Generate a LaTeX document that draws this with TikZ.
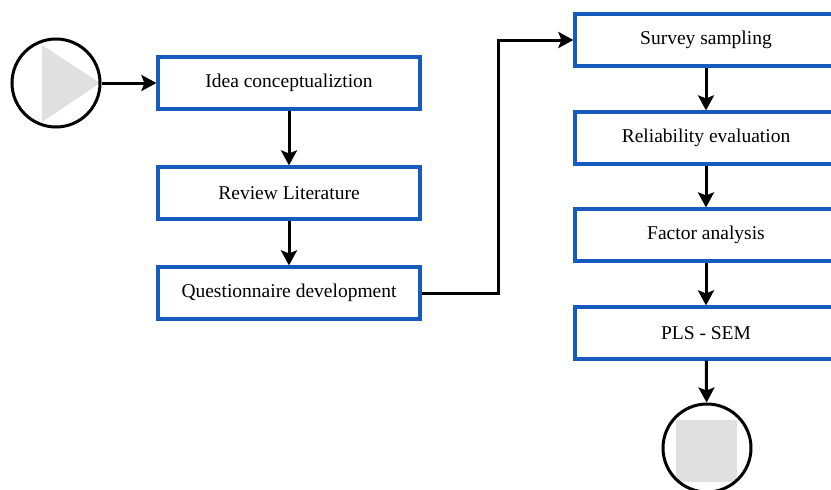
\documentclass[tikz,border=0pt]{standalone}
\usepackage{fontspec}
\setmainfont{Liberation Serif}
\usepackage{tikz}
\usetikzlibrary{arrows.meta,positioning}
\definecolor{boxblue}{RGB}{22,92,190}
\definecolor{softgray}{RGB}{224,224,224}
\tikzset{
  stepbox/.style={rectangle, draw=boxblue, line width=3.2pt, fill=white, minimum width=262pt, minimum height=52pt, inner sep=0pt, font=\fontsize{19.5}{22}\selectfont},
  term/.style={circle, draw=black, line width=3pt, minimum size=88pt, inner sep=0pt},
  flow/.style={line width=3pt, -{Stealth[length=15pt,width=16pt,inset=3pt]}}
}
\begin{document}
\begin{tikzpicture}[x=1pt,y=-1pt]
  \useasboundingbox (0,0) rectangle (831,490);
  \clip (0,0) rectangle (831,490);

  % start marker
  \fill[softgray] (42,45) -- (100,83) -- (42,122) -- cycle;
  \node[term] (start) at (56,83) {};

  % left column
  \node[stepbox] (idea) at (289,83) {Idea conceptualiztion};
  \node[stepbox] (review) at (289,193) {Review Literature};
  \node[stepbox] (quest) at (289,293) {Questionnaire development};
  \draw[flow] (start) -- (idea);
  \draw[flow] (idea) -- (review);
  \draw[flow] (review) -- (quest);

  % right column
  \node[stepbox] (survey) at (706,40) {Survey sampling};
  \node[stepbox] (reliab) at (706,138) {Reliability evaluation};
  \node[stepbox] (factor) at (706,235) {Factor analysis};
  \node[stepbox] (plssem) at (706,333) {PLS - SEM};
  \draw[flow] (quest.east) -- ++(77,0) |- (survey.west);
  \draw[flow] (survey) -- (reliab);
  \draw[flow] (reliab) -- (factor);
  \draw[flow] (factor) -- (plssem);

  % end marker
  \fill[softgray] (676,420) rectangle (737,482);
  \node[term] (stop) at (707,448) {};
  \draw[flow] (plssem) -- (stop);
\end{tikzpicture}
\end{document}
